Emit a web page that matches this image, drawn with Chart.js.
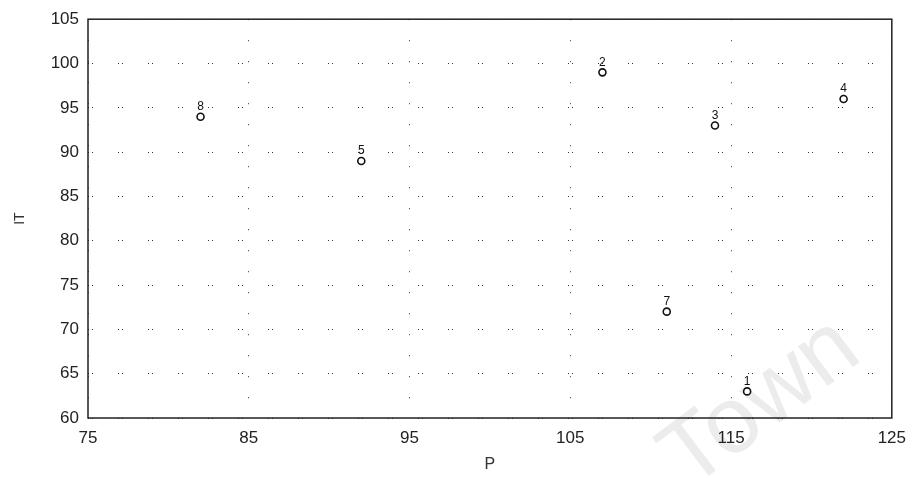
<!DOCTYPE html>
<html>
<head>
<meta charset="utf-8">
<script src="https://cdn.jsdelivr.net/npm/chart.js@4.4.1/dist/chart.umd.min.js"></script>
<style>
  body { margin: 0; background: #fff; }
  #wrap { position: relative; width: 916px; height: 478px; overflow: hidden; }
  #chart { position: absolute; left: 0; top: 0; z-index: 2; }
  #mark {
    position: absolute; left: 648px; top: 345px; z-index: 1;
    font-family: "Liberation Sans", Arial, sans-serif; font-size: 94px;
    color: #ececec; transform: rotate(-37deg); transform-origin: center;
    pointer-events: none; white-space: nowrap;
  }
</style>
</head>
<body>
<div id="wrap">
  <div id="mark">Town</div>
  <canvas id="chart" width="916" height="478"></canvas>
</div>
<script>
// point data (case 6 is not shown)
const caseLabels = ["1", "2", "3", "4", "5", "7", "8"];
const pValues = [116, 107, 114, 122, 92, 111, 82];
const itValues = [63, 99, 93, 96, 89, 72, 94];

const xTicks = [75, 85, 95, 105, 115, 125];
const yTicks = [60, 65, 70, 75, 80, 85, 90, 95, 100, 105];

const FONT = "'Liberation Sans', Arial, sans-serif";

let points = [];
for (let i = 0; i < pValues.length; i++) {
    points.push({ x: pValues[i], y: itValues[i] });
}

// labels above each marker + box around the plot
const pointLabels = {
    id: 'pointLabels',
    afterDatasetsDraw(chart) {
        const ctx = chart.ctx;
        const meta = chart.getDatasetMeta(0);
        ctx.save();
        ctx.font = "12px " + FONT;
        ctx.fillStyle = "#111";
        ctx.textAlign = "center";
        ctx.textBaseline = "bottom";
        meta.data.forEach(function(pt, i) {
            ctx.fillText(caseLabels[i], pt.x, pt.y - 4);
        });
        ctx.restore();
    },
    afterDraw(chart) {
        const a = chart.chartArea;
        const ctx = chart.ctx;
        ctx.save();
        ctx.strokeStyle = "#222";
        ctx.lineWidth = 1.5;
        ctx.strokeRect(a.left, a.top, a.right - a.left, a.bottom - a.top);
        ctx.restore();
    }
};

new Chart(document.getElementById('chart').getContext('2d'), {
    type: 'scatter',
    data: {
        datasets: [{
            data: points,
            pointStyle: 'circle',
            pointRadius: 3.5,
            pointBorderWidth: 1.6,
            pointBorderColor: '#111',
            pointBackgroundColor: '#fff'
        }]
    },
    options: {
        responsive: false,
        animation: false,
        layout: { padding: { left: 0, top: 16, right: 22, bottom: 0 } },
        plugins: { legend: { display: false }, tooltip: { enabled: false } },
        scales: {
            x: {
                type: 'linear',
                min: 75, max: 125,
                afterBuildTicks: function(scale) {
                    scale.ticks = xTicks.map(function(v) { return { value: v }; });
                },
                afterFit: function(scale) { scale.height = 60; },
                grid: { color: '#333', lineWidth: 1, drawTicks: false },
                border: { display: false, dash: [1, 20] },
                ticks: { color: '#222', font: { family: FONT, size: 17 }, padding: 10, maxRotation: 0 },
                title: { display: true, text: 'P', color: '#333', font: { family: FONT, size: 16 }, padding: { top: 10 } }
            },
            y: {
                type: 'linear',
                min: 60, max: 105,
                afterBuildTicks: function(scale) {
                    scale.ticks = yTicks.map(function(v) { return { value: v }; });
                },
                afterFit: function(scale) { scale.width = 88; },
                grid: { color: '#333', lineWidth: 1, drawTicks: false },
                border: { display: false, dash: [1, 3, 1, 25] },
                ticks: { color: '#222', font: { family: FONT, size: 17 }, padding: 9 },
                title: { display: true, text: 'IT', color: '#333', font: { family: FONT, size: 14 }, padding: { top: 12, bottom: 20 } }
            }
        }
    },
    plugins: [pointLabels]
});
</script>
</body>
</html>
